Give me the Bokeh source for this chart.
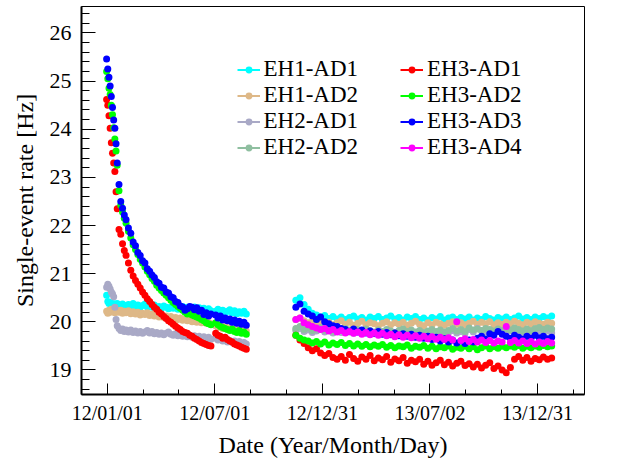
from bokeh.plotting import figure
from bokeh.models import Range1d, FixedTicker, SingleIntervalTicker, Legend, LegendItem
from bokeh.embed import file_html
from bokeh.resources import INLINE

# ---- x positions: days since 2012-01-01 ----
days_p1 = [-1, 1, 3, 5, 7, 9, 11, 13, 15, 17,
           20, 23, 26, 29, 32,
           36, 40, 44, 48, 52, 56, 60, 64, 68, 72,
           76, 80, 84, 88, 92, 96, 100, 104, 108, 112,
           116, 120, 124, 128, 132, 136, 140, 144, 148, 152,
           156, 160, 164, 168, 172, 176,
           184, 188, 192, 196, 200, 204, 208, 212, 216, 220, 224, 228, 232, 236]
days_p2 = [320, 327, 334, 341, 348, 355, 362, 369, 376, 383,
           390, 397, 404, 411, 418, 425, 432, 439, 446, 453,
           460, 467, 474, 481, 488, 495, 502, 509, 516, 523,
           530, 537, 544, 551, 558, 565, 572, 579, 586, 593,
           600, 607, 614, 621, 628, 635, 642, 649, 656, 663,
           670, 677, 684, 691, 698, 705, 712, 719, 726, 733,
           740, 747, 754]

# ---- series values [Hz] ----
eh1_ad1_p1 = [20.55, 20.42, 20.38, 20.40, 20.35, 20.38, 20.33, 20.37, 20.34, 20.38,
              20.35, 20.32, 20.37, 20.34, 20.31,
              20.36, 20.33, 20.38, 20.32, 20.35, 20.30, 20.34, 20.37, 20.31, 20.33,
              20.30, 20.35, 20.29, 20.32, 20.28, 20.33, 20.30, 20.27, 20.31, 20.28,
              20.30, 20.26, 20.29, 20.32, 20.27, 20.30, 20.25, 20.28, 20.31, 20.26,
              20.29, 20.24, 20.28, 20.25, 20.27, 20.23,
              20.22, 20.26, 20.20, 20.24, 20.18, 20.22, 20.25, 20.19, 20.23, 20.17, 20.21, 20.18, 20.22, 20.16]
eh1_ad1_p2 = [20.45, 20.50, 20.36, 20.26, 20.18, 20.14, 20.10, 20.13, 20.07, 20.11,
              20.06, 20.10, 20.05, 20.09, 20.12, 20.06, 20.09, 20.04, 20.10, 20.07,
              20.11, 20.05, 20.08, 20.12, 20.06, 20.09, 20.04, 20.10, 20.07, 20.11,
              20.05, 20.08, 20.03, 20.09, 20.06, 20.11, 20.04, 20.08, 20.10, 20.05,
              20.09, 20.06, 20.10, 20.04, 20.08, 20.05, 20.11, 20.07, 20.04, 20.09,
              20.06, 20.10, 20.05, 20.08, 20.12, 20.06, 20.09, 20.05, 20.10, 20.07,
              20.11, 20.08, 20.12]

eh1_ad2_p1 = [20.22, 20.18, 20.24, 20.20, 20.26, 20.21, 20.23, 20.19, 20.25, 20.22,
              20.20, 20.24, 20.18, 20.22, 20.19,
              20.23, 20.17, 20.21, 20.16, 20.20, 20.14, 20.18, 20.15, 20.19, 20.13,
              20.16, 20.12, 20.15, 20.10, 20.14, 20.09, 20.12, 20.08, 20.11, 20.06,
              20.09, 20.05, 20.08, 20.03, 20.06, 20.02, 20.05, 20.00, 20.03, 19.99,
              20.02, 19.98, 20.01, 19.97, 19.99, 19.96,
              19.92, 19.88, 19.91, 19.86, 19.90, 19.85, 19.88, 19.84, 19.87, 19.83, 19.86, 19.82, 19.85, 19.81]
eh1_ad2_p2 = [20.05, 20.08, 20.02, 19.98, 20.01, 19.96, 20.00, 19.95, 19.99, 19.94,
              19.98, 20.02, 19.95, 19.99, 19.93, 19.97, 20.01, 19.94, 19.98, 19.96,
              19.92, 19.97, 20.00, 19.94, 19.98, 19.95, 19.99, 19.93, 19.97, 20.01,
              19.95, 19.92, 19.98, 19.94, 19.99, 19.96, 19.93, 19.97, 20.00, 19.95,
              19.98, 19.94, 19.97, 20.01, 19.95, 19.99, 19.96, 20.00, 19.94, 19.98,
              19.95, 19.99, 19.96, 20.01, 19.97, 19.94, 19.99, 19.96, 20.00, 19.97,
              19.95, 19.99, 19.97]

eh2_ad1_p1 = [20.72, 20.78, 20.74, 20.68, 20.62, 20.58, 20.52, 20.30, 20.05, 19.92,
              19.86, 19.82, 19.85, 19.80, 19.83,
              19.79, 19.83, 19.78, 19.81, 19.77, 19.80, 19.76, 19.79, 19.82, 19.77,
              19.80, 19.75, 19.78, 19.74, 19.77, 19.73, 19.76, 19.79, 19.74, 19.72,
              19.75, 19.71, 19.74, 19.70, 19.73, 19.69, 19.72, 19.68, 19.71, 19.67,
              19.70, 19.66, 19.69, 19.65, 19.68, 19.64,
              19.66, 19.62, 19.65, 19.60, 19.63, 19.58, 19.61, 19.57, 19.60, 19.56, 19.59, 19.55, 19.57, 19.54]
eh2_ad1_p2 = [19.82, 19.86, 19.80, 19.83, 19.78, 19.81, 19.84, 19.79, 19.82, 19.77,
              19.81, 19.78, 19.83, 19.79, 19.76, 19.80, 19.77, 19.82, 19.78, 19.75,
              19.79, 19.76, 19.81, 19.77, 19.74, 19.78, 19.80, 19.76, 19.79, 19.75,
              19.78, 19.74, 19.77, 19.80, 19.76, 19.79, 19.75, 19.78, 19.82, 19.77,
              19.80, 19.76, 19.84, 19.79, 19.86, 19.82, 19.78, 19.81, 19.77, 19.80,
              19.76, 19.79, 19.82, 19.78, 19.81, 19.77, 19.80, 19.76, 19.79, 19.82,
              19.78, 19.81, 19.77]

eh2_ad2_p2 = [19.86, 19.90, 19.84, 19.87, 19.82, 19.85, 19.88, 19.83, 19.86, 19.81,
              19.85, 19.82, 19.86, 19.83, 19.80, 19.84, 19.81, 19.85, 19.82, 19.79,
              19.83, 19.80, 19.84, 19.81, 19.78, 19.82, 19.85, 19.80, 19.83, 19.79,
              19.82, 19.78, 19.81, 19.84, 19.80, 19.83, 19.79, 19.82, 19.86, 19.81,
              19.84, 19.80, 19.87, 19.83, 19.85, 19.82, 19.86, 19.84, 19.81, 19.85,
              19.82, 19.86, 19.83, 19.87, 19.84, 19.81, 19.85, 19.82, 19.86, 19.88,
              19.84, 19.87, 19.85]

eh3_ad1_p1 = [24.62, 24.50, 24.28, 24.02, 23.72, 23.50, 23.30, 23.12, 22.70, 22.35,
              21.92, 21.82, 21.62, 21.48, 21.38,
              21.22, 21.07, 20.95, 20.86, 20.78, 20.70, 20.62, 20.55, 20.48, 20.42,
              20.36, 20.30, 20.26, 20.20, 20.16, 20.11, 20.07, 20.02, 19.99, 19.95,
              19.91, 19.87, 19.84, 19.80, 19.78, 19.76, 19.72, 19.70, 19.66, 19.63,
              19.60, 19.57, 19.55, 19.53, 19.51, 19.50,
              19.76, 19.72, 19.70, 19.66, 19.68, 19.63, 19.60, 19.58, 19.54, 19.52, 19.50, 19.47, 19.45, 19.43]
eh3_ad1_p2 = [19.72, 19.62, 19.55, 19.46, 19.40, 19.44, 19.35, 19.30, 19.34, 19.26,
              19.22, 19.28, 19.20, 19.32, 19.24, 19.18, 19.27, 19.22, 19.30, 19.19,
              19.25, 19.21, 19.28, 19.16, 19.23, 19.19, 19.26, 19.14, 19.20, 19.17,
              19.22, 19.12, 19.18, 19.10, 19.15, 19.20, 19.11, 19.16, 19.08, 19.14,
              19.18, 19.09, 19.13, 19.06, 19.12, 19.04, 19.10, 19.15, 19.03, 19.08,
              19.00, 18.94, 19.05, 19.22, 19.28, 19.20, 19.26, 19.18, 19.24, 19.21,
              19.27, 19.22, 19.25]

eh3_ad2_p1 = [25.20, 25.05, 24.85, 24.72, 24.50, 24.30, 24.03, 23.80, 23.55, 23.25,
              22.72, 22.42, 22.28, 22.15, 22.05,
              21.88, 21.74, 21.60, 21.50, 21.40, 21.30, 21.22, 21.14, 21.05, 20.98,
              20.90, 20.84, 20.76, 20.70, 20.65, 20.60, 20.55, 20.50, 20.45, 20.40,
              20.36, 20.32, 20.28, 20.24, 20.20, 20.16, 20.18, 20.14, 20.12, 20.10,
              20.08, 20.05, 20.02, 19.98, 19.96, 19.94,
              19.98, 19.94, 19.90, 19.88, 19.86, 19.84, 19.82, 19.85, 19.80, 19.78, 19.82, 19.76, 19.79, 19.74]
eh3_ad2_p2 = [19.72, 19.66, 19.62, 19.60, 19.56, 19.59, 19.54, 19.58, 19.52, 19.56,
              19.53, 19.57, 19.51, 19.55, 19.50, 19.54, 19.49, 19.53, 19.48, 19.52,
              19.49, 19.53, 19.47, 19.51, 19.46, 19.50, 19.48, 19.52, 19.45, 19.49,
              19.47, 19.51, 19.45, 19.49, 19.44, 19.48, 19.46, 19.50, 19.43, 19.47,
              19.45, 19.49, 19.44, 19.48, 19.42, 19.46, 19.50, 19.44, 19.48, 19.45,
              19.49, 19.46, 19.50, 19.47, 19.51, 19.45, 19.49, 19.46, 19.50, 19.47,
              19.51, 19.48, 19.50]

eh3_ad3_p1 = [25.46, 25.25, 25.08, 24.90, 24.68, 24.45, 24.19, 24.02, 23.70, 23.30,
              22.85, 22.50, 22.36, 22.22, 22.12,
              21.95, 21.84, 21.66, 21.58, 21.44, 21.38, 21.27, 21.22, 21.10, 21.05,
              20.97, 20.92, 20.83, 20.80, 20.72, 20.70, 20.62, 20.60, 20.52, 20.50,
              20.42, 20.40, 20.33, 20.31, 20.24, 20.27, 20.32, 20.30, 20.25, 20.29,
              20.22, 20.24, 20.15, 20.19, 20.12, 20.16,
              20.14, 20.08, 20.12, 20.04, 20.08, 20.02, 20.06, 19.99, 20.04, 19.97, 20.01, 19.95, 19.99, 19.93]
eh3_ad3_p2 = [20.30, 20.37, 20.22, 20.16, 20.12, 20.05, 20.10, 20.00, 19.96, 19.92,
              19.90, 19.86, 19.84, 19.80, 19.85, 19.79, 19.83, 19.77, 19.81, 19.76,
              19.80, 19.74, 19.78, 19.73, 19.77, 19.71, 19.75, 19.70, 19.74, 19.68,
              19.72, 19.66, 19.70, 19.63, 19.68, 19.60, 19.65, 19.58, 19.62, 19.56,
              19.60, 19.55, 19.62, 19.58, 19.66, 19.70, 19.64, 19.75, 19.72, 19.80,
              19.74, 19.70, 19.66, 19.72, 19.68, 19.64, 19.70, 19.66, 19.72, 19.67,
              19.70, 19.65, 19.68]

eh3_ad4_p2 = [20.05, 20.08, 19.98, 19.94, 19.90, 19.87, 19.84, 19.86, 19.81, 19.84,
              19.79, 19.82, 19.77, 19.80, 19.76, 19.79, 19.74, 19.78, 19.73, 19.77,
              19.72, 19.76, 19.71, 19.74, 19.69, 19.73, 19.68, 19.72, 19.67, 19.71,
              19.66, 19.70, 19.65, 19.69, 19.64, 19.68, 19.63, 19.67, 19.62, 20.00,
              19.61, 19.65, 19.59, 19.63, 19.58, 19.62, 19.57, 19.61, 19.56, 19.60,
              19.58, 19.90, 19.57, 19.61, 19.56, 19.60, 19.55, 19.59, 19.54, 19.58,
              19.55, 19.59, 19.56]

series_names = ["EH1-AD1", "EH1-AD2", "EH2-AD1", "EH2-AD2",
                "EH3-AD1", "EH3-AD2", "EH3-AD3", "EH3-AD4"]
series_colors = ["#00FFFF", "#DEB887", "#A9A9C6", "#8FBFA0",
                 "#FF0000", "#00FF00", "#0000FF", "#FF00FF"]
series_p1 = [eh1_ad1_p1, eh1_ad2_p1, eh2_ad1_p1, [],
             eh3_ad1_p1, eh3_ad2_p1, eh3_ad3_p1, []]
series_p2 = [eh1_ad1_p2, eh1_ad2_p2, eh2_ad1_p2, eh2_ad2_p2,
             eh3_ad1_p2, eh3_ad2_p2, eh3_ad3_p2, eh3_ad4_p2]

tick_days = [0, 182.5, 365, 547.5, 730]
tick_labels = ["12/01/01", "12/07/01", "12/12/31", "13/07/02", "13/12/31"]
minor_tick_days = [60.83, 121.67, 243.33, 304.17, 425.83, 486.67, 608.33, 669.17, 790.83]

FONT = "Liberation Serif"

p = figure(width=624, height=460, output_backend="svg", toolbar_location=None,
           title=None,
           x_range=Range1d(-43.6, 809.7), y_range=Range1d(18.49, 26.55),
           min_border_left=81, min_border_right=40, min_border_top=6, min_border_bottom=61)
p.xgrid.visible = False
p.ygrid.visible = False
p.outline_line_color = "black"
p.outline_line_width = 1
p.background_fill_color = "white"
p.border_fill_color = "white"

xa = p.xaxis[0]
ya = p.yaxis[0]
xa.ticker = FixedTicker(ticks=tick_days, minor_ticks=minor_tick_days)
xa.major_label_overrides = {d: lab for d, lab in zip(tick_days, tick_labels)}
ya.ticker = SingleIntervalTicker(interval=1, num_minor_ticks=5)

for ax in (xa, ya):
    ax.major_tick_out = 0
    ax.minor_tick_out = 0
    ax.axis_line_width = 2
    ax.axis_line_color = "black"
    ax.major_tick_line_color = "black"
    ax.minor_tick_line_color = "black"
    ax.major_tick_line_width = 1
    ax.minor_tick_line_width = 1
    ax.major_label_text_font = FONT
    ax.major_label_text_color = "black"
    ax.axis_label_text_font = FONT
    ax.axis_label_text_font_size = "24px"
    ax.axis_label_text_font_style = "normal"
    ax.axis_label_text_color = "black"

xa.major_label_text_font_size = "20px"
ya.major_label_text_font_size = "22px"
xa.major_tick_in = 11
xa.minor_tick_in = 5
ya.major_tick_in = 14
ya.minor_tick_in = 8
xa.major_label_standoff = 7
xa.axis_label_standoff = 5
ya.major_label_standoff = 10
ya.axis_label_standoff = 9
xa.axis_label = "Date (Year/Month/Day)"
ya.axis_label = "Single-event rate [Hz]"

items = []
for name, col, v1, v2 in zip(series_names, series_colors, series_p1, series_p2):
    xs = days_p1[:len(v1)] + days_p2
    ys = list(v1) + list(v2)
    r = p.scatter(xs, ys, size=7, fill_color=col, line_color=None, marker="circle")
    # one-point line: draws nothing in the plot, gives the legend its error-bar stroke
    hl = p.line(x=xs[:1], y=ys[:1], line_color=col, line_width=2)
    items.append(LegendItem(label=name, renderers=[hl, r]))

for sub, xloc in ((items[:4], 155.5), (items[4:], 319)):
    leg = Legend(items=sub, location=(xloc, 234))
    leg.border_line_color = None
    leg.background_fill_alpha = 0
    leg.padding = 0
    leg.margin = 0
    leg.spacing = 0
    leg.glyph_width = 23
    leg.glyph_height = 17
    leg.label_height = 26
    leg.label_standoff = 4
    leg.label_text_font = FONT
    leg.label_text_font_size = "23px"
    leg.label_text_color = "black"
    p.add_layout(leg)

open("out.html", "w").write(file_html(p, INLINE))
